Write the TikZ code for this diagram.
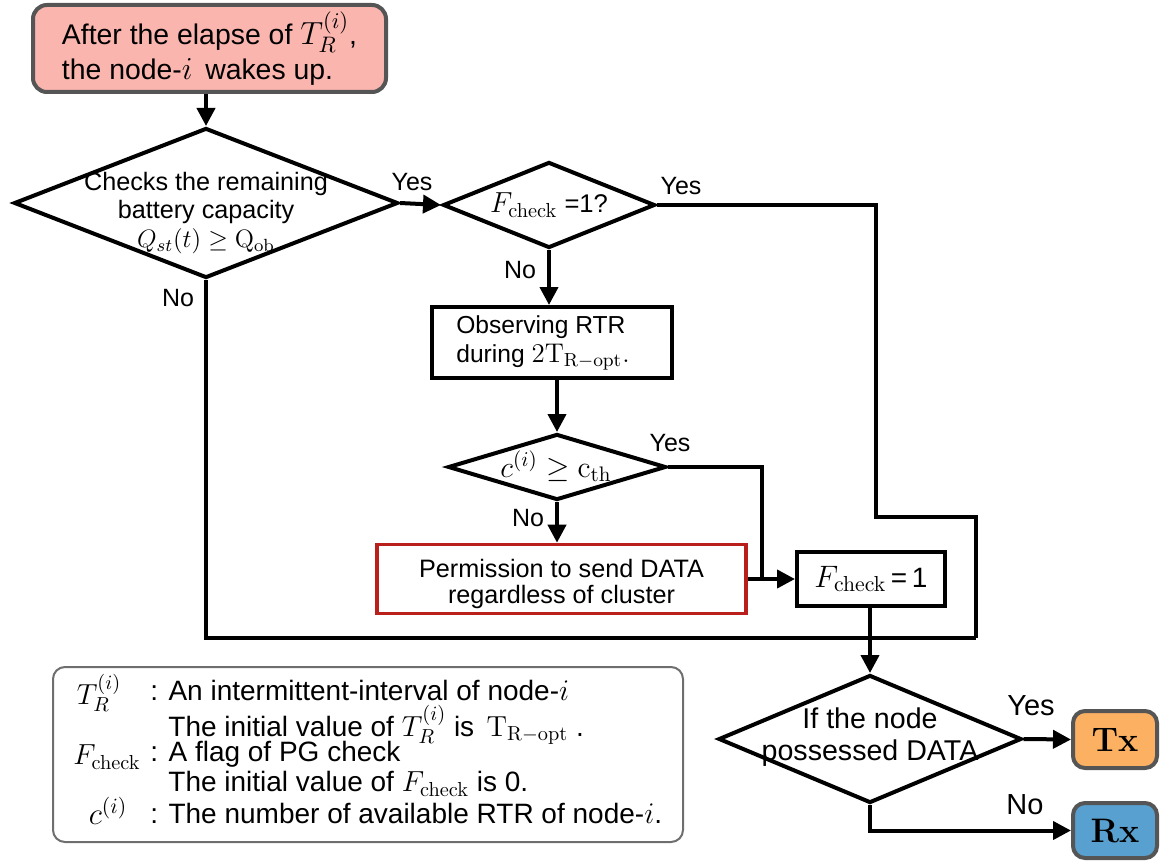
\documentclass[tikz,border=0pt]{standalone}
\usepackage{fix-cm}
\usepackage[no-math]{fontspec}
\setmainfont{Liberation Sans}
\usetikzlibrary{shapes.geometric,arrows.meta}
\definecolor{startfill}{RGB}{250,181,175}
\definecolor{edgegray}{RGB}{85,85,85}
\definecolor{leggray}{RGB}{110,110,110}
\definecolor{permred}{RGB}{185,32,28}
\definecolor{txfill}{RGB}{251,176,98}
\definecolor{rxfill}{RGB}{88,160,207}
\newcommand\setfs[2]{\fontsize{#1}{#2}\selectfont}
% math set a little larger than the surrounding text
\newcommand\mbx[2]{{\fontsize{#1}{#1}\selectfont$#2$}}
\tikzset{
  flow/.style={line width=2pt},
  arr/.style={flow,-{Triangle[length=9pt,width=9pt]}},
  dia/.style={shape=diamond,draw,line width=2pt,inner sep=0pt},
  procbox/.style={draw,line width=2pt,inner sep=0pt},
  termbox/.style={draw=edgegray,line width=2pt,rounded corners=6pt,inner sep=0pt},
  txt/.style={inner sep=0pt,align=center},
  yn/.style={inner sep=0pt,font=\setfs{12.5}{14}},
  ynbig/.style={inner sep=0pt,font=\setfs{14.5}{16}},
  legtxt/.style={inner sep=0pt,font=\setfs{14}{15},anchor=west},
  legsym/.style={inner sep=0pt},
}
\begin{document}
\begin{tikzpicture}[x=0.5pt,y=-0.5pt]
\useasboundingbox (0,0) rectangle (1160,861);

% start terminal
\node[termbox,fill=startfill,minimum width=176.5pt,minimum height=43.5pt,rounded corners=7pt] (start) at (209.5,48.5) {};
\node[txt,align=left,font=\setfs{14.2}{17.5}] (startt) at (start) {After the elapse of \mbx{16}{T_R^{(i)}},\\the node-\mbx{16}{i}\, wakes up.};

% battery check
\node[dia,minimum width=192pt,minimum height=75pt] (d1) at (206,203) {};
\node[txt,font=\setfs{12.6}{14.2}] (d1t) at (206,213) {Checks the remaining\\battery capacity\\$Q_{st}(t)\geq \mathrm{Q}_{\mathrm{ob}}$};

% flag check
\node[dia,minimum width=106pt,minimum height=43pt] (d2) at (549,205) {};
\node[txt,font=\setfs{12.8}{14}] (d2t) at (d2) {\mbx{14.5}{F_{\mathrm{check}}} =1?};

% observing box
\node[procbox,minimum width=120pt,minimum height=35.5pt] (obs) at (552,342.5) {};
\node[txt,align=left,font=\setfs{12.3}{14.5}] (obst) at (543,343) {Observing RTR\\during \mbx{13.5}{2\mathrm{T}_{\mathrm{R-opt}}.}};

% threshold check
\node[dia,minimum width=109pt,minimum height=33pt] (d3) at (557,467) {};
\node[txt] (d3t) at (556,466) {\mbx{15}{c^{(i)}\geq\mathrm{c}_{\mathrm{th}}}};

% permission box
\node[procbox,draw=permred,line width=1.8pt,minimum width=184.5pt,minimum height=34.5pt] (perm) at (561.5,579) {};
\node[txt,font=\setfs{12.6}{13.4}] (permt) at (561.5,584) {Permission to send DATA\\regardless of cluster};

% flag set box
\node[procbox,minimum width=74pt,minimum height=27pt] (fchk) at (871,579) {};
\node[txt,font=\setfs{14}{15}] (fchkt) at (fchk) {\mbx{15.5}{F_{\mathrm{check}}}\,=\,1};

% data check
\node[dia,minimum width=151.5pt,minimum height=64pt] (d4) at (870,739) {};
\node[txt,font=\setfs{14.3}{16}] (d4t) at (870,737) {If the node\\possessed DATA};

% outcomes
\node[termbox,fill=txfill,minimum width=42pt,minimum height=28.5pt] (tx) at (1115,739.5) {\mbx{17}{\mathbf{Tx}}};
\node[termbox,fill=rxfill,minimum width=42pt,minimum height=27.5pt] (rx) at (1115,830.5) {\mbx{17}{\mathbf{Rx}}};

% legend
\node[draw=leggray,line width=1pt,rounded corners=6pt,minimum width=315pt,minimum height=87.5pt,inner sep=0pt] (legend) at (368,754.5) {};
\node[legsym] (ls1) at (99,693) {\mbx{14.5}{T_R^{(i)}}};
\node[legtxt] (l1) at (150,690) {: An intermittent-interval of node-\mbx{15}{i}};
\node[legtxt] (l2) at (168,725) {The initial value of \mbx{14.5}{T_R^{(i)}} is \,\mbx{14.5}{\mathrm{T}_{\mathrm{R-opt}}} .};
\node[legsym] (ls3) at (107,757) {\mbx{14.5}{F_{\mathrm{check}}}};
\node[legtxt] (l3) at (150,754) {: A flag of PG check};
\node[legtxt] (l4) at (168,784) {The initial value of \mbx{14.5}{F_{\mathrm{check}}} is 0.};
\node[legsym] (ls5) at (108,811) {\mbx{15.5}{c^{(i)}}};
\node[legtxt] (l5) at (150,813) {: The number of available RTR of node-\mbx{15}{i}.};

% routing points
\coordinate (y2a) at (876,205);
\coordinate (y2b) at (876,517);
\coordinate (y2c) at (976,517);
\coordinate (mrg) at (976,638);
\coordinate (j3) at (762,579);

% connectors
\draw[arr] (start.south -| d1.north) -- (d1.north);
\draw[arr] (d1.east) -- (d2.west);
\draw[arr] (d2.south) -- (d2.south |- obs.north);
\draw[arr] (obs.south -| d3.north) -- (d3.north);
\draw[arr] (d3.south) -- (d3.south |- perm.north);
\draw[flow] (d3.east) -| (j3);
\draw[arr] (perm.east) -- (fchk.west);
\draw[flow] (d2.east) -- (y2a) -- (y2b) -- (y2c) -- (mrg);
\draw[flow] (d1.south) |- (mrg);
\draw[arr] (fchk.south -| d4.north) -- (d4.north);
\draw[arr] (d4.east) -- (tx.west);
\draw[arr] (d4.south) |- (rx.west);

% branch labels
\node[yn] (yes1) at (412,182) {Yes};
\node[yn] (yes2) at (681,186) {Yes};
\node[yn] (yes3) at (670,443) {Yes};
\node[ynbig] (yes4) at (1031,706) {Yes};
\node[yn] (no1) at (178,298) {No};
\node[yn] (no2) at (520,270) {No};
\node[yn] (no3) at (528,518) {No};
\node[ynbig] (no4) at (1025,805) {No};
\end{tikzpicture}
\end{document}
